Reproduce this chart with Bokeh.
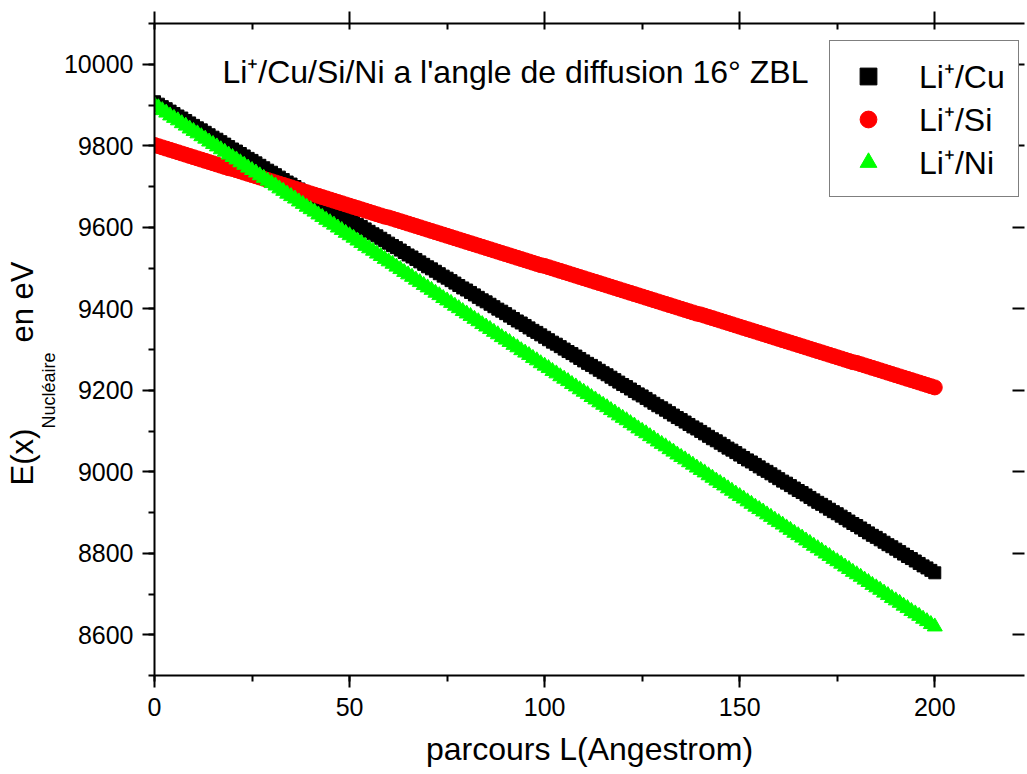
from bokeh.plotting import figure
from bokeh.models import (LinearAxis, SingleIntervalTicker, Legend, LegendItem,
                          Label, Range1d, CustomJSTickFormatter, Title)
from bokeh.embed import file_html
from bokeh.resources import INLINE

FONT = "Liberation Sans"

# ---- data ----
x_path = list(range(201))

e_cu = [
    9908, 9902, 9896, 9891, 9885, 9879, 9873, 9868, 9862, 9856,
    9850, 9844, 9839, 9833, 9827, 9821, 9816, 9810, 9804, 9798,
    9792, 9787, 9781, 9775, 9769, 9764, 9758, 9752, 9746, 9740,
    9735, 9729, 9723, 9717, 9711, 9706, 9700, 9694, 9688, 9683,
    9677, 9671, 9665, 9659, 9654, 9648, 9642, 9636, 9631, 9625,
    9619, 9613, 9607, 9602, 9596, 9590, 9584, 9579, 9573, 9567,
    9561, 9555, 9550, 9544, 9538, 9532, 9527, 9521, 9515, 9509,
    9503, 9498, 9492, 9486, 9480, 9475, 9469, 9463, 9457, 9451,
    9446, 9440, 9434, 9428, 9422, 9417, 9411, 9405, 9399, 9394,
    9388, 9382, 9376, 9370, 9365, 9359, 9353, 9347, 9342, 9336,
    9330, 9324, 9318, 9313, 9307, 9301, 9295, 9290, 9284, 9278,
    9272, 9266, 9261, 9255, 9249, 9243, 9238, 9232, 9226, 9220,
    9214, 9209, 9203, 9197, 9191, 9186, 9180, 9174, 9168, 9162,
    9157, 9151, 9145, 9139, 9133, 9128, 9122, 9116, 9110, 9105,
    9099, 9093, 9087, 9081, 9076, 9070, 9064, 9058, 9053, 9047,
    9041, 9035, 9029, 9024, 9018, 9012, 9006, 9001, 8995, 8989,
    8983, 8977, 8972, 8966, 8960, 8954, 8949, 8943, 8937, 8931,
    8925, 8920, 8914, 8908, 8902, 8897, 8891, 8885, 8879, 8873,
    8868, 8862, 8856, 8850, 8844, 8839, 8833, 8827, 8821, 8816,
    8810, 8804, 8798, 8792, 8787, 8781, 8775, 8769, 8764, 8758,
    8752,
]

e_si = [
    9802, 9799, 9796, 9793, 9790, 9787, 9784, 9781, 9778, 9775,
    9772, 9769, 9766, 9763, 9760, 9757, 9754, 9751, 9748, 9745,
    9743, 9740, 9737, 9734, 9731, 9728, 9725, 9722, 9719, 9716,
    9713, 9710, 9707, 9704, 9701, 9698, 9695, 9692, 9689, 9686,
    9683, 9680, 9677, 9674, 9671, 9668, 9665, 9662, 9659, 9656,
    9653, 9650, 9647, 9644, 9641, 9638, 9635, 9632, 9629, 9626,
    9624, 9621, 9618, 9615, 9612, 9609, 9606, 9603, 9600, 9597,
    9594, 9591, 9588, 9585, 9582, 9579, 9576, 9573, 9570, 9567,
    9564, 9561, 9558, 9555, 9552, 9549, 9546, 9543, 9540, 9537,
    9534, 9531, 9528, 9525, 9522, 9519, 9516, 9513, 9510, 9507,
    9505, 9502, 9499, 9496, 9493, 9490, 9487, 9484, 9481, 9478,
    9475, 9472, 9469, 9466, 9463, 9460, 9457, 9454, 9451, 9448,
    9445, 9442, 9439, 9436, 9433, 9430, 9427, 9424, 9421, 9418,
    9415, 9412, 9409, 9406, 9403, 9400, 9397, 9394, 9391, 9388,
    9386, 9383, 9380, 9377, 9374, 9371, 9368, 9365, 9362, 9359,
    9356, 9353, 9350, 9347, 9344, 9341, 9338, 9335, 9332, 9329,
    9326, 9323, 9320, 9317, 9314, 9311, 9308, 9305, 9302, 9299,
    9296, 9293, 9290, 9287, 9284, 9281, 9278, 9275, 9272, 9269,
    9267, 9264, 9261, 9258, 9255, 9252, 9249, 9246, 9243, 9240,
    9237, 9234, 9231, 9228, 9225, 9222, 9219, 9216, 9213, 9210,
    9207,
]

e_ni = [
    9900, 9894, 9887, 9881, 9874, 9868, 9862, 9855, 9849, 9842,
    9836, 9830, 9823, 9817, 9810, 9804, 9798, 9791, 9785, 9778,
    9772, 9766, 9759, 9753, 9746, 9740, 9734, 9727, 9721, 9714,
    9708, 9702, 9695, 9689, 9682, 9676, 9670, 9663, 9657, 9650,
    9644, 9638, 9631, 9625, 9618, 9612, 9606, 9599, 9593, 9586,
    9580, 9574, 9567, 9561, 9554, 9548, 9542, 9535, 9529, 9522,
    9516, 9510, 9503, 9497, 9490, 9484, 9478, 9471, 9465, 9458,
    9452, 9446, 9439, 9433, 9426, 9420, 9414, 9407, 9401, 9394,
    9388, 9382, 9375, 9369, 9362, 9356, 9350, 9343, 9337, 9330,
    9324, 9318, 9311, 9305, 9298, 9292, 9286, 9279, 9273, 9266,
    9260, 9254, 9247, 9241, 9234, 9228, 9222, 9215, 9209, 9202,
    9196, 9190, 9183, 9177, 9170, 9164, 9158, 9151, 9145, 9138,
    9132, 9126, 9119, 9113, 9106, 9100, 9094, 9087, 9081, 9074,
    9068, 9062, 9055, 9049, 9042, 9036, 9030, 9023, 9017, 9010,
    9004, 8998, 8991, 8985, 8978, 8972, 8966, 8959, 8953, 8946,
    8940, 8934, 8927, 8921, 8914, 8908, 8902, 8895, 8889, 8882,
    8876, 8870, 8863, 8857, 8850, 8844, 8838, 8831, 8825, 8818,
    8812, 8806, 8799, 8793, 8786, 8780, 8774, 8767, 8761, 8754,
    8748, 8742, 8735, 8729, 8722, 8716, 8710, 8703, 8697, 8690,
    8684, 8678, 8671, 8665, 8658, 8652, 8646, 8639, 8633, 8626,
    8620,
]

series_labels = ["Li\u207a/Cu", "Li\u207a/Si", "Li\u207a/Ni"]
title_text = "Li\u207a/Cu/Si/Ni a l'angle de diffusion 16\u00b0 ZBL"
x_label_text = "parcours L(Angestrom)"
y_label_main = "E(x)"
y_label_sub = "Nucl\u00e9aire"
y_label_tail = "en eV"

X_START, X_END = 0, 223
Y_START, Y_END = 8500, 10100

# ---- figure ----
p = figure(width=1027, height=774,
           x_range=Range1d(X_START, X_END), y_range=Range1d(Y_START, Y_END),
           output_backend="svg", toolbar_location=None,
           min_border_left=154, min_border_right=3,
           min_border_top=23, min_border_bottom=99)
p.outline_line_color = None
p.xgrid.visible = False
p.ygrid.visible = False
p.background_fill_color = "white"
p.border_fill_color = "white"


def style_axis(ax, interval, label_size="25px"):
    ax.ticker = SingleIntervalTicker(interval=interval, num_minor_ticks=2)
    ax.axis_line_color = "black"
    ax.axis_line_width = 2
    ax.major_tick_line_color = "black"
    ax.major_tick_line_width = 2
    ax.minor_tick_line_color = "black"
    ax.minor_tick_line_width = 2
    ax.major_label_text_font = FONT
    ax.major_label_text_font_size = label_size
    ax.major_label_text_color = "black"


xb = p.xaxis[0]
style_axis(xb, 50)
xb.major_tick_out = 12
xb.major_tick_in = 0
xb.minor_tick_out = 6
xb.minor_tick_in = 0
xb.major_label_standoff = 10
xb.axis_label = x_label_text
xb.axis_label_text_font = FONT
xb.axis_label_text_font_size = "32px"
xb.axis_label_text_font_style = "normal"
xb.axis_label_text_color = "black"
xb.axis_label_standoff = 12

yl = p.yaxis[0]
style_axis(yl, 200)
yl.major_tick_out = 12
yl.major_tick_in = 0
yl.minor_tick_out = 6
yl.minor_tick_in = 0
yl.major_label_standoff = 9

blank = CustomJSTickFormatter(code="return ''")

xt = LinearAxis()
style_axis(xt, 50)
xt.formatter = blank
xt.major_tick_out = 12
xt.major_tick_in = 0
xt.minor_tick_out = 0
xt.minor_tick_in = 6
xt.major_label_standoff = 0
p.add_layout(xt, "above")

yr = LinearAxis()
style_axis(yr, 200)
yr.formatter = blank
yr.axis_line_color = None
yr.major_tick_out = 0
yr.major_tick_in = 12
yr.minor_tick_out = 0
yr.minor_tick_in = 0
yr.major_label_standoff = 0
p.add_layout(yr, "right")

# ---- y axis title: E(x) with subscript, as side-panel titles ----
sub_title = Title(text=y_label_sub, align="left", offset=247, standoff=3,
                  text_font=FONT, text_font_size="18px",
                  text_font_style="normal", text_color="black")
p.add_layout(sub_title, "left")
gap = "\u00a0" * 10
main_title = Title(text=y_label_main + gap + y_label_tail, align="left",
                   offset=190, standoff=-8,
                   text_font=FONT, text_font_size="31px",
                   text_font_style="normal", text_color="black")
p.add_layout(main_title, "left")

# ---- series ----
r_cu = p.scatter(x_path, e_cu, marker="square", size=12,
                 fill_color="#000000", line_color="#000000")
r_si = p.scatter(x_path, e_si, marker="circle", size=15,
                 fill_color="#ff0000", line_color="#ff0000")
r_ni = p.scatter(x_path, e_ni, marker="triangle", size=15,
                 fill_color="#00ff00", line_color="#00ff00")

legend = Legend(items=[LegendItem(label=series_labels[0], renderers=[r_cu]),
                       LegendItem(label=series_labels[1], renderers=[r_si]),
                       LegendItem(label=series_labels[2], renderers=[r_ni])],
                location=(675, 478))
legend.border_line_color = "black"
legend.border_line_width = 1.5
legend.background_fill_color = "white"
legend.background_fill_alpha = 1
legend.label_text_font = FONT
legend.label_text_font_size = "32px"
legend.label_text_color = "black"
legend.glyph_width = 50
legend.glyph_height = 42
legend.label_standoff = 26
legend.padding = 13
legend.spacing = 0
legend.margin = 0
p.add_layout(legend)

# ---- chart title inside the frame ----
p.add_layout(Label(x=17.4, y=9980, text=title_text,
                   text_font=FONT, text_font_size="32px",
                   text_color="black", text_baseline="alphabetic",
                   text_align="left"))

open("out.html", "w").write(file_html(p, INLINE))
